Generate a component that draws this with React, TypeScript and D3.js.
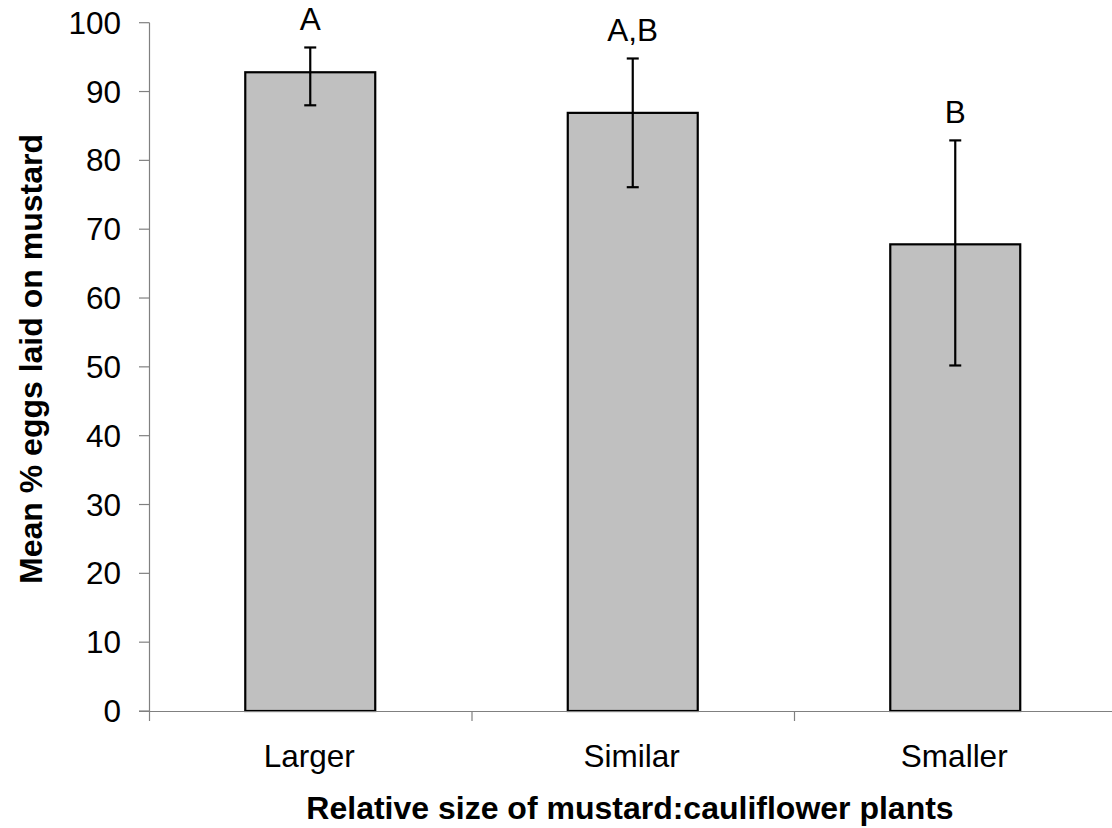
import React from "react";
import * as d3 from "d3";

const categories = ["Larger", "Similar", "Smaller"];
const means = [92.8, 86.9, 67.8];
const errUpper = [96.4, 94.8, 82.9];
const errLower = [88.0, 76.1, 50.2];
const letters = ["A", "A,B", "B"];
const yTicks = [0, 10, 20, 30, 40, 50, 60, 70, 80, 90, 100];

const W = 1112;
const H = 828;
const FONT = "'Liberation Sans', Arial, sans-serif";
const FS = 31.5;

export default function App() {
  const x = d3.scaleBand<string>().domain(categories).range([149, 1116.5]).padding(0);
  const y = d3.scaleLinear().domain([0, 100]).range([711, 22.7]);
  const bw = x.bandwidth() * 0.403;
  const axisColor = "#808080";
  const xEdges = [...categories.map((c) => x(c) as number), x.range()[1]];

  return (
    <svg width={W} height={H} style={{ position: "absolute", left: 0, top: 0, background: "#fff" }} fontFamily={FONT}>
      {/* bars */}
      {categories.map((c, i) => {
        const cx = (x(c) as number) + x.bandwidth() / 2;
        return (
          <g key={c}>
            <rect x={cx - bw / 2} y={y(means[i])} width={bw} height={y(0) - y(means[i])} fill="#c0c0c0" stroke="#000" strokeWidth={2.2} />
          </g>
        );
      })}
      {/* axes */}
      <line x1={149.5} x2={149.5} y1={y(100)} y2={y(0)} stroke={axisColor} strokeWidth={1.2} />
      <line x1={139} x2={W} y1={y(0) + 0.5} y2={y(0) + 0.5} stroke={axisColor} strokeWidth={1.2} />
      {yTicks.map((t) => (
        <g key={t}>
          <line x1={139} x2={149.5} y1={y(t)} y2={y(t)} stroke={axisColor} strokeWidth={1.2} />
          <text x={121} y={y(t)} dy="0.35em" textAnchor="end" fontSize={FS} fill="#000">
            {t}
          </text>
        </g>
      ))}
      {xEdges.map((e, i) => (
        <line key={i} x1={e + 0.5} x2={e + 0.5} y1={y(0)} y2={y(0) + 10} stroke={axisColor} strokeWidth={1.2} />
      ))}
      {/* error bars and letters */}
      {categories.map((c, i) => {
        const cx = (x(c) as number) + x.bandwidth() / 2;
        return (
          <g key={c}>
            <line x1={cx} x2={cx} y1={y(errUpper[i])} y2={y(errLower[i])} stroke="#000" strokeWidth={2.2} />
            <line x1={cx - 6} x2={cx + 6} y1={y(errUpper[i])} y2={y(errUpper[i])} stroke="#000" strokeWidth={2.2} />
            <line x1={cx - 6} x2={cx + 6} y1={y(errLower[i])} y2={y(errLower[i])} stroke="#000" strokeWidth={2.2} />
            <text x={cx} y={y(errUpper[i]) - 17} textAnchor="middle" fontSize={FS} fill="#000">
              {letters[i]}
            </text>
            <text x={cx - 1} y={767} textAnchor="middle" fontSize={FS} fill="#000">
              {c}
            </text>
          </g>
        );
      })}
      <text x={630} y={819} textAnchor="middle" fontSize={32} fontWeight="bold" fill="#000">
        Relative size of mustard:cauliflower plants
      </text>
      <text transform={`translate(42,359) rotate(-90)`} textAnchor="middle" fontSize={32} fontWeight="bold" fill="#000">
        Mean % eggs laid on mustard
      </text>
    </svg>
  );
}
